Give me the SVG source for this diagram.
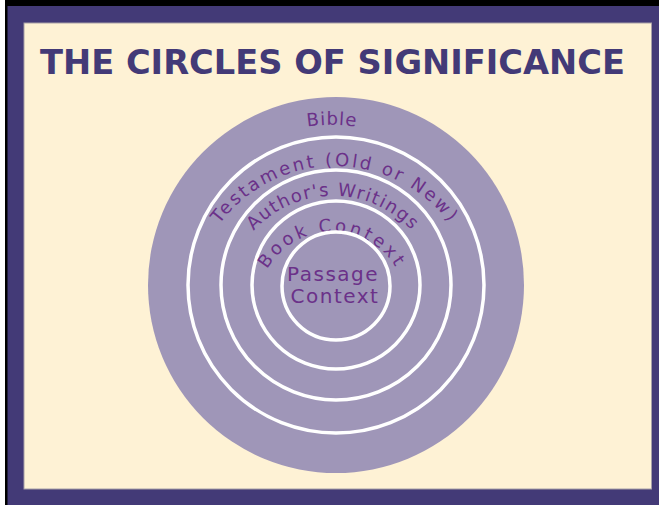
<svg xmlns="http://www.w3.org/2000/svg" width="659" height="505" viewBox="0 0 659 505">
  <defs>
    <style>
      .lbl { font-family: "DejaVu Sans", "Verdana", sans-serif; font-size: 18px; fill: #6b3189; }
      .ring { fill: none; stroke: #ffffff; stroke-width: 3.5; }
    </style>
    <path id="arcBible" d="M174.4,257.2 A160,160 0 0,1 489.6,257.2"/>
    <path id="arcTest" d="M193.2,285 A144,144 0 0,1 476.8,285"/>
    <path id="arcAuth" d="M227.6,284.4 A107,107 0 0,1 438.4,284.4"/>
    <path id="arcBook" d="M258.1,294 A75,75 0 0,1 405.9,294"/>
  </defs>

  <g id="frame">
    <rect x="0" y="0" width="659" height="505" fill="#ffffff"/>
    <rect x="5" y="0" width="654" height="505" fill="#000000"/>
    <rect x="7.5" y="6" width="651.5" height="499" fill="#433a77"/>
    <rect x="24" y="23" width="627.5" height="466" fill="#fef2d5" stroke="#a7a0a8" stroke-width="1"/>
  </g>

  <g id="title">
    <text x="40" y="74" font-family="DejaVu Sans, Verdana, sans-serif" font-weight="bold" font-size="34" fill="#433a77" textLength="585" lengthAdjust="spacingAndGlyphs">THE CIRCLES OF SIGNIFICANCE</text>
  </g>

  <g id="bible">
    <circle cx="336" cy="285" r="188" fill="#9f96b8"/>
    <text class="lbl" letter-spacing="1" text-anchor="middle"><textPath href="#arcBible" startOffset="50%">Bible</textPath></text>
  </g>

  <g id="testament">
    <circle class="ring" cx="336" cy="285" r="148"/>
    <text class="lbl" letter-spacing="2.5" text-anchor="middle"><textPath href="#arcTest" startOffset="50%">Testament (Old or New)</textPath></text>
  </g>

  <g id="authors-writings">
    <circle class="ring" cx="336" cy="285" r="115"/>
    <text class="lbl" letter-spacing="1.4" text-anchor="middle"><textPath href="#arcAuth" startOffset="50%">Author's Writings</textPath></text>
  </g>

  <g id="book-context">
    <circle class="ring" cx="336" cy="285" r="84"/>
    <text class="lbl" letter-spacing="3" text-anchor="middle"><textPath href="#arcBook" startOffset="50%">Book Context</textPath></text>
  </g>

  <g id="passage-context">
    <circle class="ring" cx="336" cy="286" r="54"/>
    <text class="lbl" style="font-size:20px" letter-spacing="1.5" text-anchor="middle">
      <tspan x="337" y="281">Passage</tspan>
      <tspan x="335" y="303">Context</tspan>
    </text>
  </g>
</svg>
